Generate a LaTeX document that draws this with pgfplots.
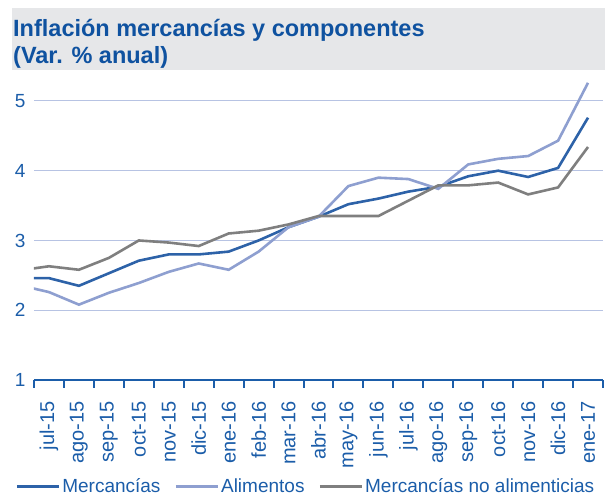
\documentclass[border=0pt]{standalone}
\usepackage{pgfplots}
\pgfplotsset{compat=1.18}
\usepackage{fontspec}
\setmainfont{Liberation Sans}

\definecolor{titblue}{HTML}{0F52A0}
\definecolor{txtblue}{HTML}{1B5DA9}
\definecolor{merc}{HTML}{2D62A8}
\definecolor{alim}{HTML}{8E9FD0}
\definecolor{noalim}{HTML}{7F7F7F}
\definecolor{gridc}{HTML}{B7C3E3}
\definecolor{band}{HTML}{E6E7E9}

% month index -1 is only there so the lines run to the left edge, as in the reference
\pgfplotstableread{
x    merc  alim  noalim
-1   2.46  2.36  2.57
0    2.46  2.26  2.63
1    2.35  2.08  2.58
2    2.53  2.25  2.75
3    2.71  2.39  3.00
4    2.80  2.55  2.97
5    2.80  2.67  2.92
6    2.84  2.58  3.10
7    3.00  2.84  3.14
8    3.19  3.19  3.23
9    3.34  3.34  3.35
10   3.52  3.78  3.35
11   3.60  3.90  3.35
12   3.70  3.88  3.57
13   3.77  3.74  3.79
14   3.92  4.09  3.79
15   4.00  4.17  3.83
16   3.91  4.21  3.66
17   4.04  4.43  3.76
18   4.76  5.26  4.34
}\datos

\begin{document}
\begin{tikzpicture}
\path[use as bounding box] (-34pt,-122pt) rectangle (571pt,380pt);
\fill[band] (-22pt,310pt) rectangle (571pt,372pt);
\node[anchor=base west, inner sep=0pt, text=titblue, font=\fontsize{23.5}{27}\selectfont\bfseries]
  at (-21pt,343pt) {Inflación mercancías y componentes};
\node[anchor=base west, inner sep=0pt, text=titblue, font=\fontsize{23.5}{27}\selectfont\bfseries]
  at (-21pt,316pt) {(Var. \% anual)};
\begin{axis}[
    at={(0,0)}, anchor=south west,
    scale only axis, width=569pt, height=300pt,
    xmin=-0.5, xmax=18.5, ymin=1, ymax=5.3,
    axis x line*=bottom, axis y line*=left,
    x axis line style={txtblue, line width=2.4pt, -},
    y axis line style={draw=none},
    xtick={0,...,18},
    xticklabels={jul-15,ago-15,sep-15,oct-15,nov-15,dic-15,ene-16,feb-16,mar-16,abr-16,may-16,jun-16,jul-16,ago-16,sep-16,oct-16,nov-16,dic-16,ene-17},
    major x tick style={draw=none},
    minor xtick={-0.5,0.5,...,18.5},
    minor x tick style={txtblue, line width=2pt},
    minor tick length=8pt,
    tick align=outside,
    xticklabel style={rotate=90, anchor=east, inner sep=0pt, text=txtblue,
      font=\fontsize{20}{22}\selectfont, xshift=-17pt},
    ytick={1,2,3,4,5},
    ytick style={draw=none},
    yticklabel style={anchor=east, inner sep=0pt, text=txtblue,
      font=\fontsize{19}{21}\selectfont, xshift=-4pt},
    /pgf/number format/assume math mode=true,
    ymajorgrids, grid style={gridc, line width=0.9pt},
    legend columns=3,
    legend style={draw=none, fill=none, at={(0.478,-0.355)}, anchor=center,
      font=\fontsize{19}{21}\selectfont, text=txtblue,
      /tikz/every even column/.append style={column sep=12pt}},
    legend image code/.code={\draw[#1, line width=2.6pt] (0pt,0pt) -- (42pt,0pt);},
    legend cell align=left,
]
\addplot[merc, line width=2.6pt] table[x=x, y=merc] {\datos};
\addlegendentry{Mercancías}
\addplot[alim, line width=2.6pt] table[x=x, y=alim] {\datos};
\addlegendentry{Alimentos}
\addplot[noalim, line width=2.6pt] table[x=x, y=noalim] {\datos};
\addlegendentry{Mercancías no alimenticias}
\end{axis}
\end{tikzpicture}
\end{document}
